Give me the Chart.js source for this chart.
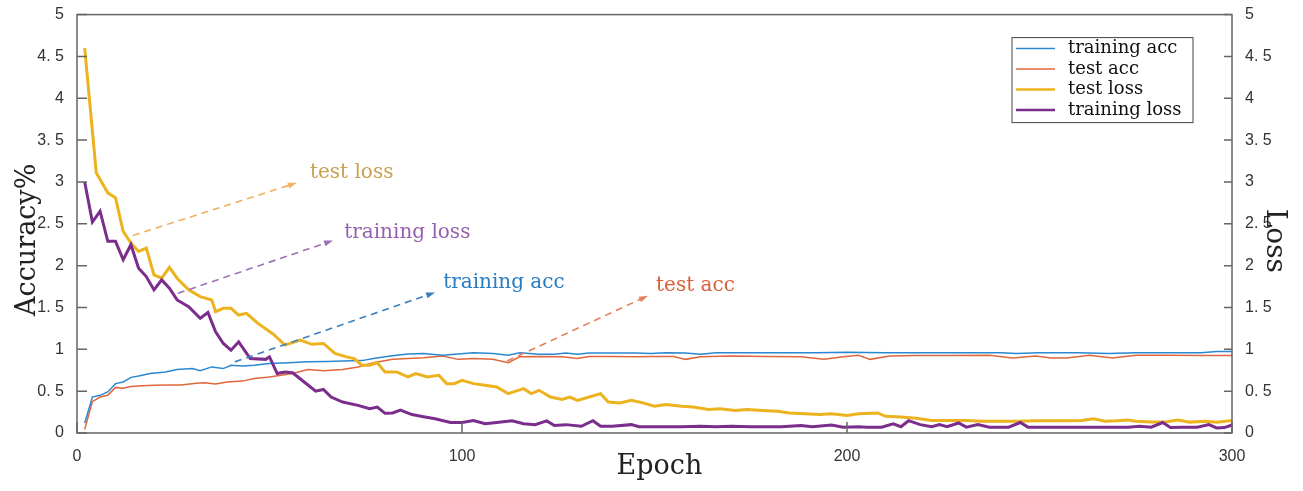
<!DOCTYPE html>
<html>
<head>
<meta charset="utf-8">
<script src="https://cdn.jsdelivr.net/npm/chart.js@4.4.0/dist/chart.umd.min.js"></script>
<style>
  html, body { margin: 0; padding: 0; background: #fff; }
</style>
</head>
<body>
<canvas id="myChart" width="1303" height="491"></canvas>
<script>
//------------------ data ------------------
const trainAccEpochs = [2,4,6,8,10,12,14,16,19,23,
  26,30,32,35,38,40,43,46,50,55,
  60,65,69,74,77,80,83,86,90,95,
  99,103,108,112,115,120,124,127,130,133,
  139,145,149,153,158,162,166,175,183,192,
  200,210,220,230,240,244,250,260,268,275,
  285,292,296,300];
const trainAcc = [0.12,0.43,0.45,0.49,0.59,0.61,0.665,0.68,0.71,0.73,
  0.76,0.77,0.745,0.79,0.77,0.81,0.80,0.81,0.83,0.84,
  0.85,0.855,0.86,0.865,0.89,0.91,0.93,0.945,0.95,0.93,
  0.945,0.96,0.95,0.93,0.96,0.94,0.94,0.955,0.94,0.955,
  0.955,0.955,0.95,0.96,0.955,0.94,0.96,0.96,0.96,0.96,
  0.965,0.96,0.96,0.96,0.96,0.95,0.96,0.96,0.95,0.96,
  0.96,0.96,0.975,0.975];

const testAccEpochs = [2,4,6,8,10,12,14,17,20,24,
  27,31,33,36,39,43,46,50,56,60,
  64,69,73,77,82,86,90,95,99,103,
  108,112,115,120,126,130,133,139,145,150,
  155,158,162,170,179,188,194,199,203,206,
  211,218,227,237,243,249,253,257,263,269,
  275,283,292,300];
const testAcc = [0.045,0.375,0.43,0.45,0.545,0.535,0.555,0.565,0.57,0.575,
  0.575,0.595,0.60,0.585,0.61,0.62,0.65,0.67,0.71,0.76,
  0.745,0.76,0.79,0.84,0.88,0.89,0.90,0.92,0.88,0.89,
  0.88,0.84,0.91,0.915,0.91,0.89,0.915,0.915,0.91,0.915,
  0.915,0.88,0.91,0.92,0.915,0.91,0.88,0.91,0.93,0.88,
  0.92,0.925,0.925,0.93,0.895,0.92,0.895,0.895,0.93,0.895,
  0.93,0.93,0.925,0.925];

const testLossEpochs = [2,5,8,10,12,14,16,18,20,22,
  24,26,29,32,35,36,38,40,42,44,
  47,51,54,58,61,64,67,70,72,74,
  76,78,80,83,86,88,91,94,96,98,
  100,103,106,109,112,116,118,120,123,126,
  128,130,133,136,138,141,144,147,150,153,
  157,160,164,167,171,174,178,182,185,189,
  193,196,200,203,208,210,214,218,222,227,
  231,235,240,244,249,253,257,261,264,267,
  270,273,275,279,283,286,289,293,296,300];
const testLoss = [4.60,3.11,2.87,2.81,2.41,2.27,2.17,2.21,1.89,1.85,
  1.98,1.85,1.71,1.63,1.59,1.45,1.49,1.49,1.41,1.43,
  1.31,1.18,1.05,1.11,1.06,1.07,0.95,0.91,0.89,0.81,
  0.81,0.84,0.73,0.73,0.67,0.71,0.67,0.69,0.59,0.59,
  0.63,0.59,0.57,0.55,0.47,0.53,0.47,0.51,0.43,0.40,
  0.43,0.39,0.43,0.47,0.37,0.36,0.39,0.36,0.32,0.34,
  0.32,0.31,0.28,0.29,0.27,0.28,0.27,0.26,0.24,0.23,
  0.22,0.23,0.21,0.23,0.24,0.20,0.19,0.175,0.15,0.15,
  0.15,0.14,0.14,0.14,0.145,0.145,0.145,0.15,0.17,0.14,
  0.145,0.155,0.14,0.13,0.135,0.155,0.13,0.14,0.13,0.15];

const trainLossEpochs = [2,4,6,8,10,12,14,16,18,20,
  22,24,26,29,32,34,36,38,40,42,
  45,49,50,52,54,56,59,62,64,66,
  69,73,76,78,80,82,84,87,90,93,
  97,100,103,106,109,113,116,119,122,124,
  127,131,134,136,139,144,146,150,153,157,
  162,166,170,175,179,183,188,191,196,199,
  203,205,209,212,214,216,219,222,224,226,
  229,231,234,237,242,245,247,251,255,260,
  264,268,273,276,279,282,284,287,291,294,
  296,298,300];
const trainLoss = [3.00,2.52,2.65,2.29,2.29,2.07,2.25,1.97,1.87,1.71,
  1.83,1.73,1.59,1.51,1.37,1.44,1.21,1.07,0.99,1.09,
  0.89,0.88,0.91,0.71,0.73,0.72,0.61,0.50,0.52,0.43,
  0.37,0.33,0.29,0.31,0.235,0.24,0.275,0.22,0.195,0.17,
  0.125,0.125,0.15,0.11,0.125,0.145,0.11,0.10,0.145,0.09,
  0.10,0.08,0.147,0.08,0.08,0.10,0.075,0.075,0.075,0.075,
  0.08,0.075,0.08,0.075,0.075,0.075,0.09,0.075,0.095,0.07,
  0.075,0.07,0.07,0.11,0.075,0.147,0.10,0.075,0.10,0.075,
  0.12,0.07,0.10,0.07,0.07,0.125,0.07,0.07,0.07,0.07,
  0.07,0.07,0.07,0.08,0.07,0.125,0.065,0.07,0.07,0.10,
  0.06,0.065,0.095];

const seriesNames = ["training acc", "test acc", "test loss", "training loss"];
const yTickValues = [0, 0.5, 1, 1.5, 2, 2.5, 3, 3.5, 4, 4.5, 5];
const xTickValues = [0, 100, 200, 300];

// callouts: [label, fromEpoch, fromValue, toEpoch, toValue, textEpoch, textValue]
const calloutLabels = ["test loss", "training loss", "training acc", "test acc"];
const calloutFrom = [[14.5, 2.36], [26.2, 1.67], [41, 0.85], [111.7, 0.86]];
const calloutTo = [[57.1, 2.99], [66.5, 2.30], [93, 1.68], [148.3, 1.64]];
const calloutText = [[60.5, 3.11], [69.4, 2.39], [95.1, 1.79], [150.4, 1.76]];

//------------------ styles ------------------
const colors = ["#2a88d0", "#e0663c", "#ecb31f", "#7b2d8c"];
const widths = [1.5, 1.5, 3, 3];
const calloutTextColors = ["#c9a04e", "#9560ad", "#2a7cc0", "#d8603a"];
const calloutLineColors = ["#f0b060", "#9a72b5", "#3d80bd", "#e5805e"];
const serif = "'DejaVu Serif', serif";

const toPoints = (ex, vs) => ex.map((e, i) => ({ x: e, y: vs[i] }));

const datasets = [
  { label: seriesNames[0], data: toPoints(trainAccEpochs, trainAcc), yAxisID: "y", order: 2 },
  { label: seriesNames[1], data: toPoints(testAccEpochs, testAcc), yAxisID: "y", order: 3 },
  { label: seriesNames[2], data: toPoints(testLossEpochs, testLoss), yAxisID: "y2", order: 1 },
  { label: seriesNames[3], data: toPoints(trainLossEpochs, trainLoss), yAxisID: "y2", order: 0 },
].map((d, i) => Object.assign(d, {
  borderColor: colors[i], backgroundColor: colors[i], borderWidth: widths[i],
  pointRadius: 0, tension: 0, fill: false,
}));

const tickLabel = (v) => Number.isInteger(v) ? String(v) : String(v).replace(".", ". ");

//------------------ frame, inward ticks, titles, callouts, legend ------------------
const overlay = {
  id: "overlay",
  afterDatasetsDraw(chart) {
    const { ctx, chartArea: a, scales } = chart;
    const xs = scales.x, ys = scales.y;
    ctx.save();

    // box
    ctx.strokeStyle = "#666";
    ctx.lineWidth = 1.5;
    ctx.strokeRect(a.left, a.top, a.right - a.left, a.bottom - a.top);
    ctx.beginPath();
    yTickValues.forEach((v) => {
      const py = ys.getPixelForValue(v);
      ctx.moveTo(a.left, py); ctx.lineTo(a.left + 10, py);
      ctx.moveTo(a.right, py); ctx.lineTo(a.right - 8, py);
    });
    xTickValues.forEach((v) => {
      const px = xs.getPixelForValue(v);
      ctx.moveTo(px, a.bottom); ctx.lineTo(px, a.bottom - 11);
    });
    ctx.stroke();

    // axis titles
    ctx.fillStyle = "#222";
    ctx.textAlign = "center";
    ctx.textBaseline = "middle";
    ctx.font = "27px " + serif;
    ctx.fillText("Epoch", (a.left + a.right) / 2 + 5, a.bottom + 34);
    ctx.save();
    ctx.translate(a.left - 49, (a.top + a.bottom) / 2 + 16);
    ctx.rotate(-Math.PI / 2);
    ctx.fillText("Accuracy%", 0, 0);
    ctx.restore();
    ctx.save();
    ctx.translate(a.right + 42, (a.top + a.bottom) / 2 + 17);
    ctx.rotate(Math.PI / 2);
    ctx.font = "28px " + serif;
    ctx.fillText("Loss", 0, 0);
    ctx.restore();

    // dashed callout arrows
    calloutLabels.forEach((label, i) => {
      const x1 = xs.getPixelForValue(calloutFrom[i][0]), y1 = ys.getPixelForValue(calloutFrom[i][1]);
      const x2 = xs.getPixelForValue(calloutTo[i][0]), y2 = ys.getPixelForValue(calloutTo[i][1]);
      const ang = Math.atan2(y2 - y1, x2 - x1);
      ctx.strokeStyle = calloutLineColors[i];
      ctx.fillStyle = calloutLineColors[i];
      ctx.lineWidth = 1.6;
      ctx.setLineDash([7, 5]);
      ctx.beginPath();
      ctx.moveTo(x1, y1);
      ctx.lineTo(x2 - 6 * Math.cos(ang), y2 - 6 * Math.sin(ang));
      ctx.stroke();
      ctx.setLineDash([]);
      ctx.beginPath();
      ctx.moveTo(x2, y2);
      ctx.lineTo(x2 - 9 * Math.cos(ang) + 3 * Math.sin(ang), y2 - 9 * Math.sin(ang) - 3 * Math.cos(ang));
      ctx.lineTo(x2 - 9 * Math.cos(ang) - 3 * Math.sin(ang), y2 - 9 * Math.sin(ang) + 3 * Math.cos(ang));
      ctx.closePath();
      ctx.fill();

      ctx.fillStyle = calloutTextColors[i];
      ctx.font = "20px " + serif;
      ctx.textAlign = "left";
      ctx.textBaseline = "middle";
      ctx.fillText(label, xs.getPixelForValue(calloutText[i][0]), ys.getPixelForValue(calloutText[i][1]));
    });

    // legend box (top right, inside the axes)
    const bx = a.right - 220, by = a.top + 23, bw = 181, bh = 85;
    ctx.fillStyle = "#fff";
    ctx.fillRect(bx, by, bw, bh);
    ctx.strokeStyle = "#444";
    ctx.lineWidth = 1;
    ctx.strokeRect(bx, by, bw, bh);
    ctx.font = "18px " + serif;
    ctx.textAlign = "left";
    ctx.textBaseline = "middle";
    seriesNames.forEach((name, i) => {
      const ly = by + 11 + i * 20.5;
      ctx.strokeStyle = colors[i];
      ctx.lineWidth = widths[i] > 2 ? 2.5 : 1.5;
      ctx.beginPath();
      ctx.moveTo(bx + 4, ly); ctx.lineTo(bx + 43, ly);
      ctx.stroke();
      ctx.fillStyle = "#111";
      ctx.fillText(name, bx + 56, ly);
    });
    ctx.restore();
  },
};

const yTicks = {
  stepSize: 0.5, padding: 5, color: "#333",
  font: { family: "'Liberation Sans', Arial, sans-serif", size: 16 },
  callback: tickLabel,
};

const config = {
  type: "line",
  data: { datasets },
  options: {
    responsive: false,
    animation: false,
    layout: { padding: { top: 13, left: 0, right: 0, bottom: 0 } },
    plugins: { legend: { display: false }, tooltip: { enabled: false } },
    scales: {
      x: {
        type: "linear", min: 0, max: 300,
        grid: { display: false }, border: { display: false },
        ticks: { stepSize: 100, padding: 6, color: "#333", maxRotation: 0,
          font: { family: "'Liberation Sans', Arial, sans-serif", size: 16 } },
        afterFit: (s) => { s.height = 58; },
      },
      y: {
        position: "left", min: 0, max: 5,
        grid: { display: false }, border: { display: false },
        ticks: yTicks,
        afterFit: (s) => { s.width = 77; },
      },
      y2: {
        position: "right", min: 0, max: 5,
        grid: { display: false }, border: { display: false },
        ticks: yTicks,
        afterFit: (s) => { s.width = 71; },
      },
    },
  },
  plugins: [overlay],
};

const myChart = new Chart(document.getElementById("myChart"), config);
</script>
</body>
</html>
